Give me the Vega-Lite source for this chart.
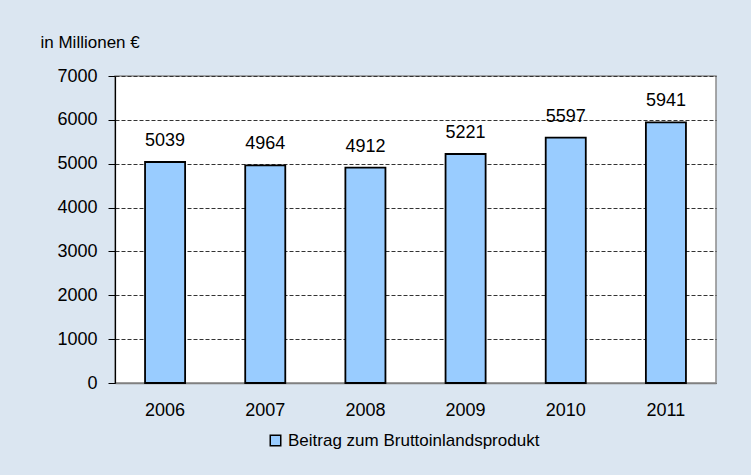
{
  "$schema": "https://vega.github.io/schema/vega-lite/v6.json",
  "width": 601,
  "height": 307,
  "autosize": {"type": "none"},
  "padding": {"left": 115, "top": 76, "right": 35, "bottom": 92},
  "background": "#dbe6f1",
  "data": {"values": [
    {"year": "2006", "value": 5039, "series": "Beitrag zum Bruttoinlandsprodukt"},
    {"year": "2007", "value": 4964, "series": "Beitrag zum Bruttoinlandsprodukt"},
    {"year": "2008", "value": 4912, "series": "Beitrag zum Bruttoinlandsprodukt"},
    {"year": "2009", "value": 5221, "series": "Beitrag zum Bruttoinlandsprodukt"},
    {"year": "2010", "value": 5597, "series": "Beitrag zum Bruttoinlandsprodukt"},
    {"year": "2011", "value": 5941, "series": "Beitrag zum Bruttoinlandsprodukt"}
  ]},
  "config": {
    "font": "Liberation Sans",
    "view": {"fill": "#ffffff", "stroke": "#8c8c8c", "strokeWidth": 1.5},
    "axis": {"labelFont": "Liberation Sans", "labelColor": "#000000", "labelFontSize": 18, "titleFont": "Liberation Sans"}
  },
  "encoding": {
    "x": {"field": "year", "type": "nominal",
      "scale": {"paddingInner": 0.6, "paddingOuter": 0.3},
      "axis": {"title": null, "labelAngle": 0, "ticks": false, "labelPadding": 18, "domainColor": "#808080", "domainWidth": 1.5, "grid": false}},
    "y": {"field": "value", "type": "quantitative",
      "scale": {"domain": [0, 7000]},
      "axis": {"values": [0, 1000, 2000, 3000, 4000, 5000, 6000, 7000], "format": "d",
        "title": "in Millionen €", "titleAngle": 0, "titleAlign": "left", "titleBaseline": "middle",
        "titleX": -75, "titleY": -34, "titleFontSize": 17, "titleFontWeight": "normal", "titleColor": "#000000",
        "domainColor": "#000000", "domainWidth": 1.2, "tickColor": "#000000", "tickSize": 7, "labelPadding": 11,
        "grid": true, "gridColor": "#333333", "gridDash": [4, 2], "gridWidth": 1}}
  },
  "layer": [
    {"mark": {"type": "bar", "stroke": "#000000", "strokeWidth": 1.8},
      "encoding": {"color": {"field": "series", "type": "nominal",
        "scale": {"range": ["#99ccff"]},
        "legend": {"title": null, "orient": "none", "legendX": 152, "legendY": 356, "symbolType": "square", "symbolSize": 110,
          "symbolStrokeColor": "#000000", "symbolStrokeWidth": 1.5, "labelFontSize": 17, "labelColor": "#000000", "labelFont": "Liberation Sans", "labelOffset": 4, "labelLimit": 0}}}},
    {"mark": {"type": "text", "baseline": "bottom", "dy": -12, "fontSize": 18, "color": "#000000", "font": "Liberation Sans"},
      "encoding": {"text": {"field": "value", "type": "quantitative", "format": "d"}}}
  ]
}
